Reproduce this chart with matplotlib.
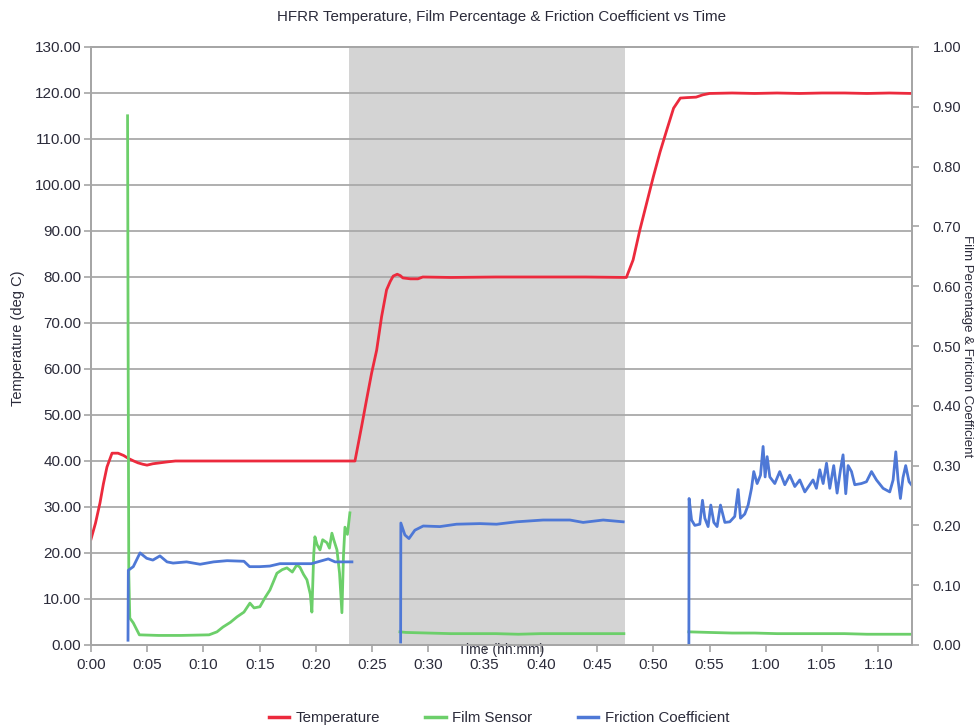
import numpy as np
import matplotlib
matplotlib.use("Agg")
import matplotlib.pyplot as plt
from matplotlib.lines import Line2D

plt.rcParams['font.family'] = ['Liberation Sans', 'DejaVu Sans']

# ---------------- data (time in minutes) ----------------
temp_t = [0.0, 0.4, 0.8, 1.1, 1.42, 1.87, 2.4, 2.9, 3.29, 3.8, 4.18, 4.6, 4.98, 5.5, 6.13, 6.76,
          7.5, 10, 13, 16, 19, 21, 23.47, 24.06, 24.5, 24.95, 25.4, 25.84, 26.28, 26.6,
          26.87, 27.23, 27.5, 27.73, 28.4, 29.07, 29.5, 32, 36, 40, 44, 47.6, 48.2, 48.8,
          49.4, 50.0, 50.6, 51.2, 51.8, 52.4, 53.0, 53.8, 54.4, 55.0, 57, 59, 61, 63, 65,
          67, 69, 71, 73.0]
temp_v = [23.0, 26.5, 30.9, 35.0, 38.7, 41.7, 41.7, 41.2, 40.6, 40.0, 39.6, 39.3, 39.1, 39.4,
          39.6, 39.8, 40.0, 40.0, 40.0, 40.0, 40.0, 40.0, 40.0, 47.5, 53.3, 59.1, 64.1,
          71.4, 77.2, 79.0, 80.2, 80.6, 80.3, 79.8, 79.6, 79.6, 80.0, 79.9, 80.0, 80.0,
          80.0, 79.9, 83.7, 90.2, 96.0, 101.8, 107.2, 112.0, 116.7, 118.9, 119.0, 119.1,
          119.6, 119.9, 120.0, 119.9, 120.0, 119.9, 120.0, 120.0, 119.9, 120.0, 119.9]

film_t = [3.25, 3.3, 3.36, 3.45, 3.76, 4.3, 6.0, 8.0, 10.5, 11.2, 11.73, 12.4, 12.98, 13.6,
          14.13, 14.5, 15.02, 15.5, 15.91, 16.2, 16.53, 17.0, 17.42, 17.9, 18.3, 18.58,
          18.9, 19.2, 19.5, 19.64, 19.8, 19.91, 20.1, 20.36, 20.6, 20.98, 21.2, 21.42,
          21.6, 21.87, 22.1, 22.31, 22.45, 22.58, 22.8, 23.02,
          np.nan,
          27.47, 28.0, 30.0, 32.0, 34.0, 36.0, 38.0, 40.0, 42.0, 44.0, 46.0, 47.38,
          np.nan,
          53.16, 55.0, 57.0, 59.0, 61.0, 63.0, 65.0, 67.0, 69.0, 71.0, 73.0]
film_v = [0.885, 0.50, 0.12, 0.045, 0.037, 0.017, 0.016, 0.016, 0.017, 0.022, 0.030, 0.038,
          0.047, 0.055, 0.070, 0.062, 0.064, 0.080, 0.092, 0.105, 0.120, 0.126, 0.129, 0.122,
          0.134, 0.130, 0.118, 0.109, 0.085, 0.055, 0.150, 0.181, 0.168, 0.159, 0.176,
          0.171, 0.162, 0.187, 0.175, 0.159, 0.120, 0.054, 0.150, 0.197, 0.185, 0.221,
          np.nan,
          0.022, 0.021, 0.020, 0.019, 0.019, 0.019, 0.018, 0.019, 0.019, 0.019, 0.019, 0.019,
          np.nan,
          0.022, 0.021, 0.020, 0.020, 0.019, 0.019, 0.019, 0.019, 0.018, 0.018, 0.018]

fric_t = [3.29, 3.32, 3.76, 4.36, 4.95, 5.5, 6.13, 6.76, 7.3, 8.5, 9.7, 10.9, 12.1, 13.6,
          14.1, 15.0, 15.9, 16.8, 18.2, 19.6, 21.1, 21.7, 23.2,
          np.nan,
          27.53, 27.55, 27.91, 28.27, 28.8, 29.54, 31.02, 32.5, 34.58, 36.06, 37.84, 40.2,
          42.58, 43.76, 45.54, 47.32,
          np.nan,
          53.16, 53.18, 53.4, 53.69, 54.13, 54.37, 54.58, 54.87, 55.11, 55.38, 55.67, 55.97,
          56.36, 56.8, 57.24, 57.54, 57.75, 58.13, 58.43, 58.73, 58.93, 59.23, 59.53, 59.76,
          59.94, 60.12, 60.36, 60.8, 61.24, 61.69, 62.13, 62.58, 63.02, 63.47, 63.91, 64.2,
          64.5, 64.8, 65.1, 65.4, 65.69, 66.04, 66.34, 66.64, 66.87, 67.11, 67.32, 67.62,
          67.91, 68.5, 68.95, 69.4, 69.84, 70.43, 71.02, 71.32, 71.56, 71.76, 71.97, 72.2,
          72.44, 72.74, 72.95]
fric_v = [0.008, 0.125, 0.131, 0.154, 0.145, 0.142, 0.149, 0.139, 0.137, 0.139, 0.135, 0.139,
          0.141, 0.140, 0.131, 0.131, 0.132, 0.136, 0.136, 0.136, 0.144, 0.139, 0.139,
          np.nan,
          0.005, 0.204, 0.184, 0.178, 0.192, 0.199, 0.198, 0.202, 0.203, 0.202, 0.206, 0.209,
          0.209, 0.205, 0.209, 0.206,
          np.nan,
          0.0, 0.245, 0.209, 0.200, 0.202, 0.242, 0.212, 0.198, 0.234, 0.205, 0.198, 0.234,
          0.205, 0.206, 0.215, 0.260, 0.212, 0.219, 0.234, 0.262, 0.290, 0.270, 0.284, 0.332,
          0.281, 0.315, 0.281, 0.270, 0.290, 0.268, 0.284, 0.265, 0.276, 0.256, 0.268, 0.276,
          0.262, 0.293, 0.270, 0.304, 0.262, 0.300, 0.254, 0.293, 0.318, 0.253, 0.300, 0.290,
          0.268, 0.270, 0.273, 0.290, 0.276, 0.262, 0.256, 0.276, 0.323, 0.276, 0.245, 0.280,
          0.300, 0.273, 0.268]

shade_start, shade_end = 22.95, 47.45
x_tick_minutes = [0, 5, 10, 15, 20, 25, 30, 35, 40, 45, 50, 55, 60, 65, 70]
x_tick_labels = ["0:00", "0:05", "0:10", "0:15", "0:20", "0:25", "0:30", "0:35", "0:40",
                 "0:45", "0:50", "0:55", "1:00", "1:05", "1:10"]
left_ticks = [0, 10, 20, 30, 40, 50, 60, 70, 80, 90, 100, 110, 120, 130]
right_ticks = [0.0, 0.1, 0.2, 0.3, 0.4, 0.5, 0.6, 0.7, 0.8, 0.9, 1.0]

# ---------------- styling ----------------
RED = '#EC2A3D'
GREEN = '#6CCF6A'
BLUE = '#4E78D6'
SPINE = '#A6A6A6'
TXT = '#2B2B3A'

W, H = 974, 727
L, R, B, T = 91, 912, 645, 47
fig = plt.figure(figsize=(W / 100, H / 100), dpi=100)
ax = fig.add_axes([L / W, (H - B) / H, (R - L) / W, (B - T) / H])
ax2 = ax.twinx()

ax.axvspan(shade_start, shade_end, color='#D4D4D4', zorder=0.5, lw=0)
ax.set_yticks(left_ticks)
ax.grid(axis='y', color='#A9A9A9', lw=1.3)
ax.set_axisbelow('line')

ax.plot(temp_t, temp_v, color=RED, lw=2.0, zorder=3)
ax2.plot(film_t, film_v, color=GREEN, lw=2.0)
ax2.plot(fric_t, fric_v, color=BLUE, lw=2.0)

ax.set_xlim(0, 73.0)
ax.set_ylim(0, 130)
ax2.set_ylim(0, 1.0)
ax2.set_yticks(right_ticks)
ax.set_xticks(x_tick_minutes)
ax.set_xticklabels(x_tick_labels)
ax.yaxis.set_major_formatter(matplotlib.ticker.FormatStrFormatter('%.2f'))
ax2.yaxis.set_major_formatter(matplotlib.ticker.FormatStrFormatter('%.2f'))

for a in (ax, ax2):
    for s in a.spines.values():
        s.set_color(SPINE)
        s.set_linewidth(1.3)
    a.tick_params(colors=SPINE, labelcolor=TXT, labelsize=11, length=5, width=1.2)

ax.tick_params(axis='y', pad=2)
ax2.tick_params(axis='y', pad=10, labelsize=10.5)
ax.tick_params(axis='x', pad=4.5)

ax.set_ylabel('Temperature (deg C)', fontsize=10.5, color=TXT, va='center')
ax.yaxis.set_label_coords((18 - L) / (R - L), 0.513)
ax.set_xlabel('Time (hh:mm)', fontsize=10.0, color=TXT, va='center')
ax.xaxis.set_label_coords(0.5, -(650 - B) / (B - T))
ax2.set_ylabel('Film Percentage & Friction Coefficient', fontsize=9.5, color=TXT,
               rotation=270, va='center')
ax2.yaxis.set_label_coords((967 - L) / (R - L), 0.5)

fig.text((L + R) / 2 / W, 1 - 17 / H,
         'HFRR Temperature, Film Percentage & Friction Coefficient vs Time',
         fontsize=10.9, color=TXT, ha='center', va='center')

handles = [Line2D([], [], color=RED, lw=2.5), Line2D([], [], color=GREEN, lw=2.5),
           Line2D([], [], color=BLUE, lw=2.5)]
fig.legend(handles, ['Temperature', 'Film Sensor', 'Friction Coefficient'],
           loc='center', bbox_to_anchor=(499 / W, 9 / H), ncol=3, frameon=False,
           fontsize=10.8, handlelength=1.35, handletextpad=0.45, columnspacing=3.0,
           labelcolor=TXT, borderpad=0, borderaxespad=0)

fig.savefig('out.png', dpi=100)
